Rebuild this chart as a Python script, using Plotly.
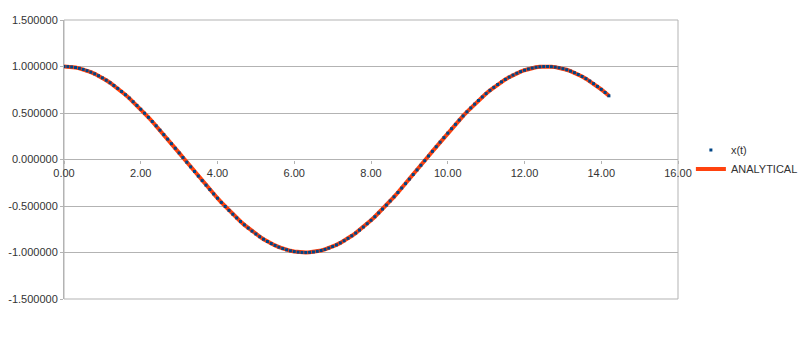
import plotly.graph_objects as go

# time values t = 0.0 .. 14.2 step 0.1
t_values = [round(i * 0.1, 1) for i in range(143)]

# x(t) samples (cosine-like oscillation)
x_values = [
    1.0000, 0.9988, 0.9950, 0.9888, 0.9801, 0.9689, 0.9553, 0.9394, 0.9211, 0.9004,
    0.8776, 0.8525, 0.8253, 0.7961, 0.7648, 0.7317, 0.6967, 0.6600, 0.6216, 0.5817,
    0.5403, 0.4976, 0.4536, 0.4085, 0.3624, 0.3153, 0.2675, 0.2190, 0.1700, 0.1205,
    0.0707, 0.0208, -0.0292, -0.0791, -0.1288, -0.1782, -0.2272, -0.2756, -0.3233, -0.3702,
    -0.4161, -0.4611, -0.5048, -0.5474, -0.5885, -0.6282, -0.6663, -0.7027, -0.7374, -0.7702,
    -0.8011, -0.8301, -0.8569, -0.8816, -0.9041, -0.9243, -0.9422, -0.9578, -0.9710, -0.9817,
    -0.9900, -0.9958, -0.9991, -1.0000, -0.9983, -0.9942, -0.9875, -0.9784, -0.9668, -0.9528,
    -0.9365, -0.9178, -0.8968, -0.8735, -0.8481, -0.8206, -0.7910, -0.7594, -0.7259, -0.6907,
    -0.6536, -0.6150, -0.5748, -0.5332, -0.4903, -0.4461, -0.4008, -0.3545, -0.3073, -0.2594,
    -0.2108, -0.1617, -0.1122, -0.0624, -0.0124, 0.0376, 0.0875, 0.1372, 0.1865, 0.2354,
    0.2837, 0.3312, 0.3780, 0.4239, 0.4685, 0.5121, 0.5544, 0.5953, 0.6347, 0.6725,
    0.7087, 0.7431, 0.7756, 0.8061, 0.8347, 0.8612, 0.8855, 0.9076, 0.9275, 0.9450,
    0.9602, 0.9729, 0.9833, 0.9911, 0.9965, 0.9994, 0.9998, 0.9977, 0.9932, 0.9862,
    0.9766, 0.9647, 0.9502, 0.9335, 0.9144, 0.8930, 0.8694, 0.8436, 0.8158, 0.7859,
    0.7539, 0.7202, 0.6846,
]
analytical_values = list(x_values)

x_ticks = [0, 2, 4, 6, 8, 10, 12, 14, 16]
x_tick_text = ["0.00", "2.00", "4.00", "6.00", "8.00", "10.00", "12.00", "14.00", "16.00"]
y_ticks = [-1.5, -1.0, -0.5, 0.0, 0.5, 1.0, 1.5]
y_tick_text = ["-1.500000", "-1.000000", "-0.500000", "0.000000",
               "0.500000", "1.000000", "1.500000"]

series_names = ["x(t)", "ANALYTICAL"]
colors = ["#004586", "#ff420e"]

fig = go.Figure()
fig.add_trace(go.Scatter(
    x=t_values, y=analytical_values, mode="lines", name=series_names[1],
    line=dict(color=colors[1], width=4), legendrank=2,
))
fig.add_trace(go.Scatter(
    x=t_values, y=x_values, mode="markers", name=series_names[0],
    marker=dict(color=colors[0], size=3, symbol="square", line=dict(width=0)),
    legendrank=1,
))

font = dict(family="Liberation Sans, Arial, sans-serif", size=11, color="#333333")
grid = "#b3b3b3"

fig.update_layout(
    width=800, height=337,
    margin=dict(l=64, r=122, t=20, b=38, autoexpand=False),
    paper_bgcolor="white", plot_bgcolor="white",
    font=font,
    showlegend=True,
    legend=dict(x=1.021, y=0.5, xanchor="left", yanchor="middle",
                font=font, bgcolor="rgba(0,0,0,0)", itemwidth=30,
                tracegroupgap=0),
    xaxis=dict(range=[0, 16], tickvals=x_ticks, ticktext=x_tick_text,
               showgrid=False, zeroline=False, showline=False,
               anchor="free", position=0.5,
               ticks="outside", ticklen=3, tickcolor=grid,
               tickfont=font),
    yaxis=dict(range=[-1.5, 1.5], tickvals=y_ticks, ticktext=y_tick_text,
               showgrid=True, gridcolor=grid, gridwidth=1,
               zeroline=True, zerolinecolor=grid, zerolinewidth=1,
               showline=True, linecolor=grid, linewidth=1,
               ticks="outside", ticklen=3, tickcolor=grid,
               tickfont=font),
)
fig.add_shape(type="rect", xref="paper", yref="paper", x0=0, x1=1, y0=0, y1=1,
              line=dict(color=grid, width=1), layer="below")

fig.write_html("out.html")
